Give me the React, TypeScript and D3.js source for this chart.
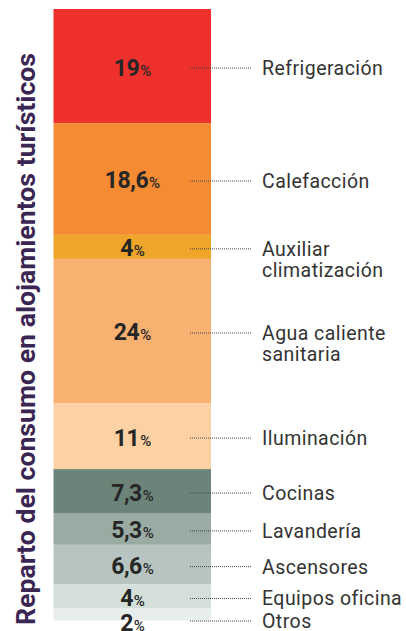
import React from "react";
import * as d3 from "d3";

const categories = [
  "Refrigeración",
  "Calefacción",
  "Auxiliar climatización",
  "Agua caliente sanitaria",
  "Iluminación",
  "Cocinas",
  "Lavandería",
  "Ascensores",
  "Equipos oficina",
  "Otros",
];
const values = [19, 18.6, 4, 24, 11, 7.3, 5.3, 6.6, 4, 2];
const valueLabels = ["19", "18,6", "4", "24", "11", "7,3", "5,3", "6,6", "4", "2"];
const labelLines = [
  ["Refrigeración"],
  ["Calefacción"],
  ["Auxiliar", "climatización"],
  ["Agua caliente", "sanitaria"],
  ["Iluminación"],
  ["Cocinas"],
  ["Lavandería"],
  ["Ascensores"],
  ["Equipos oficina"],
  ["Otros"],
];
const colors = [
  "#ee312c",
  "#f58b32",
  "#eea52a",
  "#f8b170",
  "#fcd1a4",
  "#6c837a",
  "#9aaba4",
  "#b7c4c1",
  "#d5dfda",
  "#e8eeeb",
];
const axisTitle = "Reparto del consumo en alojamientos turísticos";

export default function App() {
  const W = 406;
  const H = 631;
  const total = d3.sum(values);
  const y = d3.scaleLinear().domain([0, total]).range([9, 620.5]);
  const x0 = 53.5;
  const x1 = 211;
  const cx = (x0 + x1) / 2;
  const stacked = values.map((v, i) => {
    const start = d3.sum(values.slice(0, i));
    return { v, i, y0: y(start), y1: y(start + v) };
  });
  const numFont = "Roboto, sans-serif";
  const labFont = "Roboto, 'Noto Sans', sans-serif";
  return (
    <svg
      width={W}
      height={H}
      style={{ position: "absolute", left: 0, top: 0, background: "#fff" }}
    >
      {stacked.map((s) => (
        <rect
          key={"r" + s.i}
          x={x0}
          y={s.y0}
          width={x1 - x0}
          height={s.y1 - s.y0}
          fill={colors[s.i]}
        />
      ))}
      {stacked.map((s) => {
        const last = s.i === values.length - 1;
        const ly = last ? s.y1 + 0.5 : (s.y0 + s.y1) / 2 + 2;
        const lines = labelLines[s.i];
        const lh = 21;
        return (
          <g key={"g" + s.i}>
            <text
              x={cx}
              y={ly + 7.5 + (last ? 2 : 0)}
              textAnchor="middle"
              fill="#262626"
              style={{ fontFamily: numFont, fontWeight: 700, letterSpacing: "-0.5px" }}
            >
              <tspan fontSize={23}>{valueLabels[s.i]}</tspan>
              <tspan fontSize={15} fontWeight={500} dx={1}>%</tspan>
            </text>
            <line
              x1={190}
              x2={252}
              y1={ly}
              y2={ly}
              stroke="#444"
              strokeWidth={1}
              strokeDasharray="1,1"
            />
            <text
              x={262}
              y={ly + 7}
              fill="#333"
              style={{ fontFamily: labFont, fontSize: 19.5, letterSpacing: "0.45px" }}
            >
              {lines.map((t, k) => (
                <tspan key={k} x={262} dy={k === 0 ? 0 : lh}>
                  {t}
                </tspan>
              ))}
            </text>
          </g>
        );
      })}
      <text
        transform={`translate(34.5, 339) rotate(-90)`}
        textAnchor="middle"
        fill="#3b2653"
        textLength={572}
        lengthAdjust="spacingAndGlyphs"
        style={{ fontFamily: "Roboto, sans-serif", fontWeight: 700, fontSize: 26 }}
      >
        {axisTitle}
      </text>
    </svg>
  );
}
